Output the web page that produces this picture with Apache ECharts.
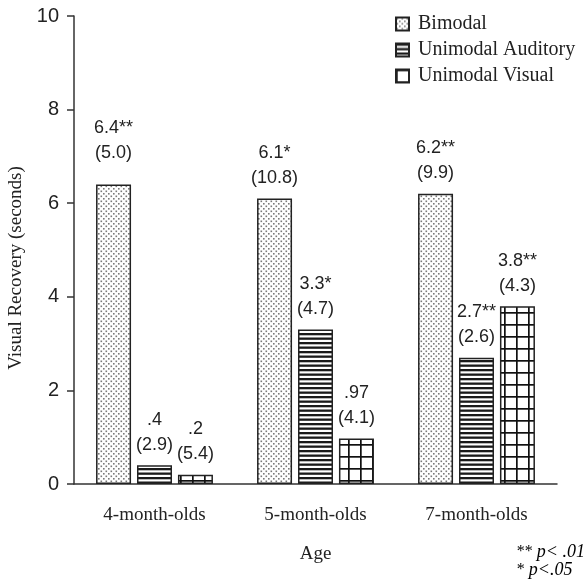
<!DOCTYPE html>
<html>
<head>
<meta charset="utf-8">
<script src="https://cdn.jsdelivr.net/npm/echarts@6/dist/echarts.min.js"></script>
<style>
  html, body { margin: 0; padding: 0; background: #fff; }
  #chart { width: 588px; height: 581px; }
</style>
</head>
<body>
<div id="chart"></div>
<script>
const categories = ['4-month-olds', '5-month-olds', '7-month-olds'];
const seriesNames = ['Bimodal', 'Unimodal Auditory', 'Unimodal Visual'];

const bimodal = [6.4, 6.1, 6.2];
const auditory = [0.4, 3.3, 2.7];
const visual = [0.2, 0.97, 3.8];

// mean label (with significance stars) and SD in brackets
const bimodalMean = ['6.4**', '6.1*', '6.2**'];
const bimodalSd = ['(5.0)', '(10.8)', '(9.9)'];
const auditoryMean = ['.4', '3.3*', '2.7**'];
const auditorySd = ['(2.9)', '(4.7)', '(2.6)'];
const visualMean = ['.2', '.97', '3.8**'];
const visualSd = ['(5.4)', '(4.1)', '(4.3)'];

const yTicks = [0, 2, 4, 6, 8, 10];

const serif = '"Liberation Serif", "DejaVu Serif", serif';
const narrow = '"Liberation Sans Narrow", "Liberation Sans", sans-serif';

function makePattern(w, h, draw) {
    const c = document.createElement('canvas');
    c.width = w;
    c.height = h;
    const ctx = c.getContext('2d');
    ctx.fillStyle = '#fff';
    ctx.fillRect(0, 0, w, h);
    draw(ctx);
    return { image: c, repeat: 'repeat' };
}

const dots = makePattern(5, 5, ctx => {
    ctx.fillStyle = '#7a7a7a';
    ctx.fillRect(0.5, 0.5, 1.6, 1.6);
    ctx.fillRect(3, 3, 1.6, 1.6);
});
const stripes = makePattern(4, 9, ctx => {
    ctx.fillStyle = '#1a1a1a';
    ctx.fillRect(0, 0, 4, 2.3);
    ctx.fillRect(0, 4.5, 4, 2.3);
});
const grid = makePattern(12, 12, ctx => {
    ctx.fillStyle = '#111';
    ctx.fillRect(0, 0, 12, 1.7);
    ctx.fillRect(0, 0, 1.7, 12);
});

function barSeries(name, values, means, sds, fill) {
    return {
        name: name,
        type: 'bar',
        barWidth: 35,
        barGap: '17%',
        data: values.map((v, i) => {
            // the first bimodal label sits a little higher in the original figure
            if (name === seriesNames[0] && i === 0) {
                return { value: v, label: { distance: 19 } };
            }
            return v;
        }),
        itemStyle: { color: fill, borderColor: '#222', borderWidth: 1.5 },
        label: {
            show: true,
            position: 'top',
            distance: 8,
            formatter: p => means[p.dataIndex] + '\n' + sds[p.dataIndex],
            fontFamily: narrow,
            fontSize: 18,
            lineHeight: 25,
            color: '#222',
            align: 'center'
        }
    };
}

const chart = echarts.init(document.getElementById('chart'));

const option = {
    backgroundColor: '#fff',
    animation: false,
    grid: { left: 74, right: 31, top: 16, bottom: 97, outerBoundsMode: 'none', containLabel: false },
    legend: {
        orient: 'vertical',
        left: 390,
        top: 9,
        icon: 'rect',
        itemWidth: 13,
        itemHeight: 13,
        itemGap: 6,
        data: seriesNames,
        textStyle: { fontFamily: serif, fontSize: 20, color: '#222', padding: [0, 0, 0, 4] }
    },
    xAxis: {
        type: 'category',
        data: categories,
        name: 'Age',
        nameLocation: 'middle',
        nameGap: 61,
        nameTextStyle: { fontFamily: serif, fontSize: 19, color: '#222' },
        axisLine: { lineStyle: { color: '#333', width: 1.5 } },
        axisTick: { length: 10, lineStyle: { color: '#333', width: 1.5 } },
        axisLabel: { fontFamily: serif, fontSize: 19, color: '#222', margin: 22 }
    },
    yAxis: {
        type: 'value',
        min: yTicks[0],
        max: yTicks[yTicks.length - 1],
        interval: 2,
        name: 'Visual Recovery (seconds)',
        nameLocation: 'middle',
        nameGap: 46,
        nameTextStyle: { fontFamily: serif, fontSize: 19, color: '#222', padding: [0, 36, 0, 0] },
        splitLine: { show: false },
        axisLine: { show: true, lineStyle: { color: '#333', width: 1.5 } },
        axisTick: { show: true, length: 7, lineStyle: { color: '#333', width: 1.5 } },
        axisLabel: { fontFamily: narrow, fontSize: 20, color: '#222', margin: 15 }
    },
    graphic: [
        {
            type: 'text',
            right: 3,
            top: 543,
            style: {
                text: '{n|** }{i|p< .01}\n{n|* }{i|p<.05}',
                align: 'right',
                lineHeight: 18,
                rich: {
                    n: { fontFamily: serif, fontSize: 16, color: '#222' },
                    i: { fontFamily: serif, fontSize: 18, fontStyle: 'italic', color: '#222' }
                }
            }
        }
    ],
    series: [
        barSeries(seriesNames[0], bimodal, bimodalMean, bimodalSd, dots),
        barSeries(seriesNames[1], auditory, auditoryMean, auditorySd, stripes),
        barSeries(seriesNames[2], visual, visualMean, visualSd, grid)
    ]
};

chart.setOption(option);
</script>
</body>
</html>
